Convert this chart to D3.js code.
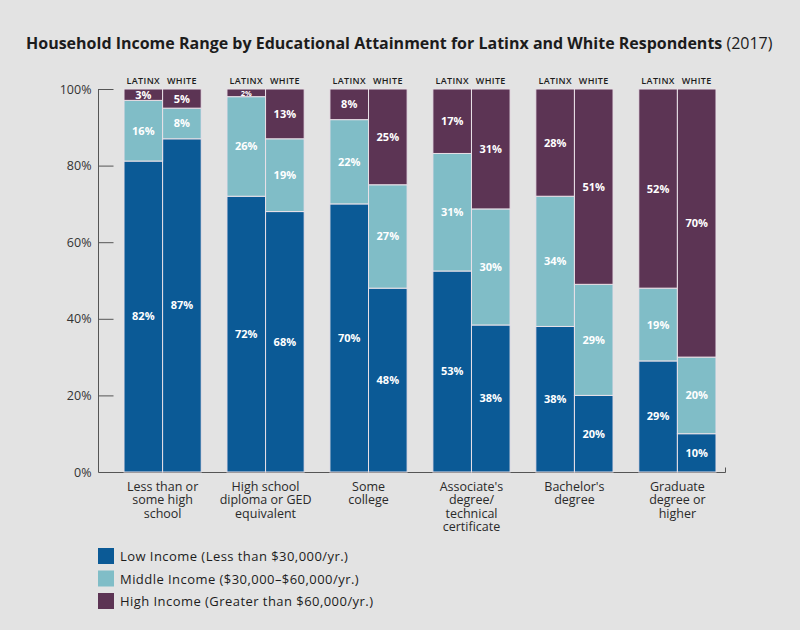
<!DOCTYPE html>
<html><head><meta charset="utf-8">
<script src="https://cdn.jsdelivr.net/npm/d3@7"></script>
<style>
html,body{margin:0;padding:0;background:#e3e3e3;}
svg{display:block;font-family:"Open Sans",sans-serif;}
</style></head>
<body>
<svg id="chart" width="800" height="630"></svg>
<script>
const categories = [
  ["Less than or","some high","school"],
  ["High school","diploma or GED","equivalent"],
  ["Some","college"],
  ["Associate's","degree/","technical","certificate"],
  ["Bachelor's","degree"],
  ["Graduate","degree or","higher"]
];
const groups = ["LATINX","WHITE"];
const seriesKeys = ["low","mid","high"];
const seriesLabels = [
  "Low Income (Less than $30,000/yr.)",
  "Middle Income ($30,000\u2013$60,000/yr.)",
  "High Income (Greater than $60,000/yr.)"
];
const lowLatinx  = [82,72,70,53,38,29];
const lowWhite   = [87,68,48,38,20,10];
const midLatinx  = [16,26,22,31,34,19];
const midWhite   = [8,19,27,30,29,20];
const highLatinx = [3,2,8,17,28,52];
const highWhite  = [5,13,25,31,51,70];
const yTicks = [0,20,40,60,80,100];
const colors = ["#0b5a96","#80bdc7","#5c3454"];

const rows = [];
categories.forEach((c,i)=>{
  rows.push({cat:i, grp:"LATINX", low:lowLatinx[i], mid:midLatinx[i], high:highLatinx[i]});
  rows.push({cat:i, grp:"WHITE", low:lowWhite[i], mid:midWhite[i], high:highWhite[i]});
});

const svg = d3.select("#chart");
const x0 = d3.scaleBand().domain(d3.range(categories.length)).range([124,716]).paddingInner(0.25).paddingOuter(0);
const x1 = d3.scaleBand().domain(groups).range([0,x0.bandwidth()]).padding(0);
const y = d3.scaleLinear().domain([0,1]).range([472,89]);
const yPct = d3.scaleLinear().domain([0,100]).range([472,89]);
const color = d3.scaleOrdinal().domain(seriesKeys).range(colors);

// title
const title = svg.append("text").attr("x",26).attr("y",49).attr("fill","#1c1c1c").style("font-size","16px");
title.append("tspan").attr("font-weight",700).text("Household Income Range by Educational Attainment for Latinx and White Respondents");
title.append("tspan").attr("font-weight",400).text(" (2017)");

// y axis
const yAxis = svg.append("g").attr("transform","translate(98.5,0)")
  .call(d3.axisLeft(yPct).tickValues(yTicks).tickSize(-15).tickPadding(7).tickFormat(d=>d+"%"));
yAxis.select(".domain").attr("d","M0,89V472").attr("stroke","#555");
yAxis.selectAll(".tick line").attr("stroke","#555");
yAxis.selectAll(".tick text").attr("fill","#333").style("font-size","12.5px").style("font-family","'Open Sans',sans-serif");

// x axis line
const xAxis = svg.append("g").attr("transform","translate(0,472.5)");
xAxis.append("path").attr("d","M98.5,0H725.5V-5").attr("fill","none").attr("stroke","#555");

// stacks
const stack = d3.stack().keys(seriesKeys).offset(d3.stackOffsetExpand);
const stacked = stack(rows);

const layer = svg.append("g");
stacked.forEach(s=>{
  s.forEach(seg=>{
    const r = seg.data;
    const bx = x0(r.cat) + x1(r.grp);
    const y0 = y(seg[0]), y1 = y(seg[1]);
    layer.append("rect")
      .attr("x",bx).attr("y",y1).attr("width",x1.bandwidth()).attr("height",y0-y1)
      .attr("fill",color(s.key)).attr("stroke","#e9e1e8").attr("stroke-width",1);
    const h = y0-y1;
    const fs = h < 10 ? 7.5 : 11;
    layer.append("text")
      .attr("x",bx + x1.bandwidth()/2).attr("y",(y0+y1)/2)
      .attr("dy","0.36em").attr("text-anchor","middle")
      .attr("fill","#fff").attr("font-weight",700).style("font-size",fs+"px")
      .text(r[s.key]+"%");
  });
});

// group headers
categories.forEach((c,i)=>{
  groups.forEach(g=>{
    svg.append("text").attr("x",x0(i)+x1(g)+x1.bandwidth()/2).attr("y",84)
      .attr("text-anchor","middle").attr("fill","#1c1c1c").attr("font-weight",600)
      .style("font-size","9px").style("letter-spacing","0.35px").text(g);
  });
  const t = svg.append("text").attr("text-anchor","middle").attr("fill","#2a2a2a").style("font-size","12.5px");
  c.forEach((line,k)=>{
    t.append("tspan").attr("x",x0(i)+x0.bandwidth()/2).attr("y",491+k*13.4).text(line);
  });
});

// legend
const legend = svg.append("g");
seriesKeys.forEach((k,i)=>{
  legend.append("rect").attr("x",98).attr("y",548+i*22.5).attr("width",16).attr("height",16).attr("fill",color(k));
  legend.append("text").attr("x",120).attr("y",561+i*22.5).attr("fill","#1c1c1c")
    .style("font-size","13px").style("letter-spacing","0.45px").text(seriesLabels[i]);
});
</script>
</body></html>
